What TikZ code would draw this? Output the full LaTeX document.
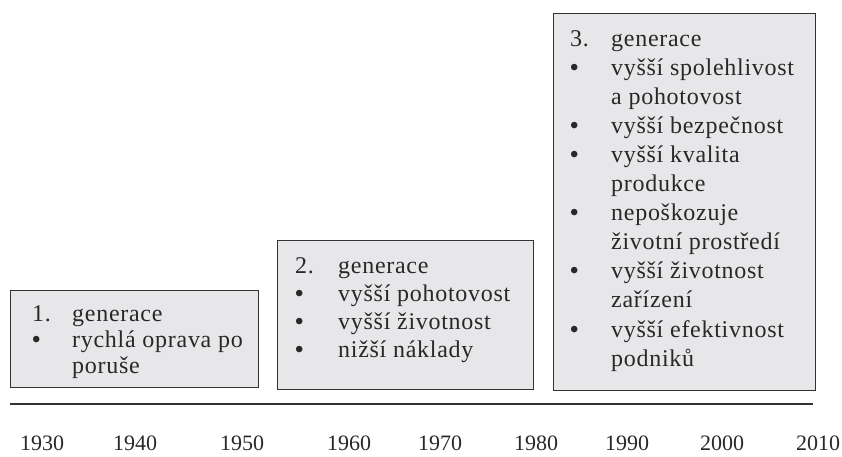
\documentclass[tikz,border=0pt]{standalone}
\usepackage{fontspec}
\setmainfont{Liberation Serif}
\newfontfamily\genfont[LetterSpace=3]{Liberation Serif}
\usepackage{array}
\definecolor{boxfill}{RGB}{231,231,233}
\definecolor{ink}{RGB}{40,40,40}
\definecolor{frame}{RGB}{50,50,50}
\newcommand\genbul{\textbf{\textbullet}}
\begin{document}
\begin{tikzpicture}[x=1pt,y=-1pt,
  genbox/.style={draw=frame, line width=1.4pt, fill=boxfill, inner sep=0pt, anchor=north west},
  gentext/.style={anchor=base west, inner sep=0pt, text=ink},
  year/.style={anchor=base, inner sep=0pt, text=ink, font=\fontsize{22}{26}\selectfont},
  axis/.style={draw=frame, line width=2.6pt}]
\useasboundingbox (0,0) rectangle (842,456);
% boxes
\node[genbox, minimum width=248pt, minimum height=97pt] (b1) at (10,290) {};
\node[genbox, minimum width=256pt, minimum height=149pt] (b2) at (277,240) {};
\node[genbox, minimum width=262pt, minimum height=377pt] (b3) at (553,13) {};
% texts
\node[gentext, font=\genfont\fontsize{24}{26}\selectfont] (t1) at (32,321) {%
\begin{tabular}[t]{@{}p{40pt}@{}l@{}}
1. & generace\\
\genbul & rychlá oprava po\\
 & poruše
\end{tabular}};
\node[gentext, font=\genfont\fontsize{24}{28}\selectfont] (t2) at (295,273) {%
\begin{tabular}[t]{@{}p{43pt}@{}l@{}}
2. & generace\\
\genbul & vyšší pohotovost\\
\genbul & vyšší životnost\\
\genbul & nižší náklady
\end{tabular}};
\node[gentext, font=\genfont\fontsize{24}{29.1}\selectfont] (t3) at (570,46) {%
\begin{tabular}[t]{@{}p{41pt}@{}l@{}}
3. & generace\\
\genbul & vyšší spolehlivost\\
 & a pohotovost\\
\genbul & vyšší bezpečnost\\
\genbul & vyšší kvalita\\
 & produkce\\
\genbul & nepoškozuje\\
 & životní prostředí\\
\genbul & vyšší životnost\\
 & zařízení\\
\genbul & vyšší efektivnost\\
 & podniků
\end{tabular}};
% axis
\coordinate (a0) at (10,404);
\coordinate (a1) at (813,404);
\draw[axis] (a0) -- (a1);
% years
\node[year] (y1930) at (42,450) {1930};
\node[year] (y1940) at (135,450) {1940};
\node[year] (y1950) at (242,450) {1950};
\node[year] (y1960) at (349,450) {1960};
\node[year] (y1970) at (440,450) {1970};
\node[year] (y1980) at (536,450) {1980};
\node[year] (y1990) at (627,450) {1990};
\node[year] (y2000) at (722,450) {2000};
\node[year] (y2010) at (818,450) {2010};
\end{tikzpicture}
\end{document}
